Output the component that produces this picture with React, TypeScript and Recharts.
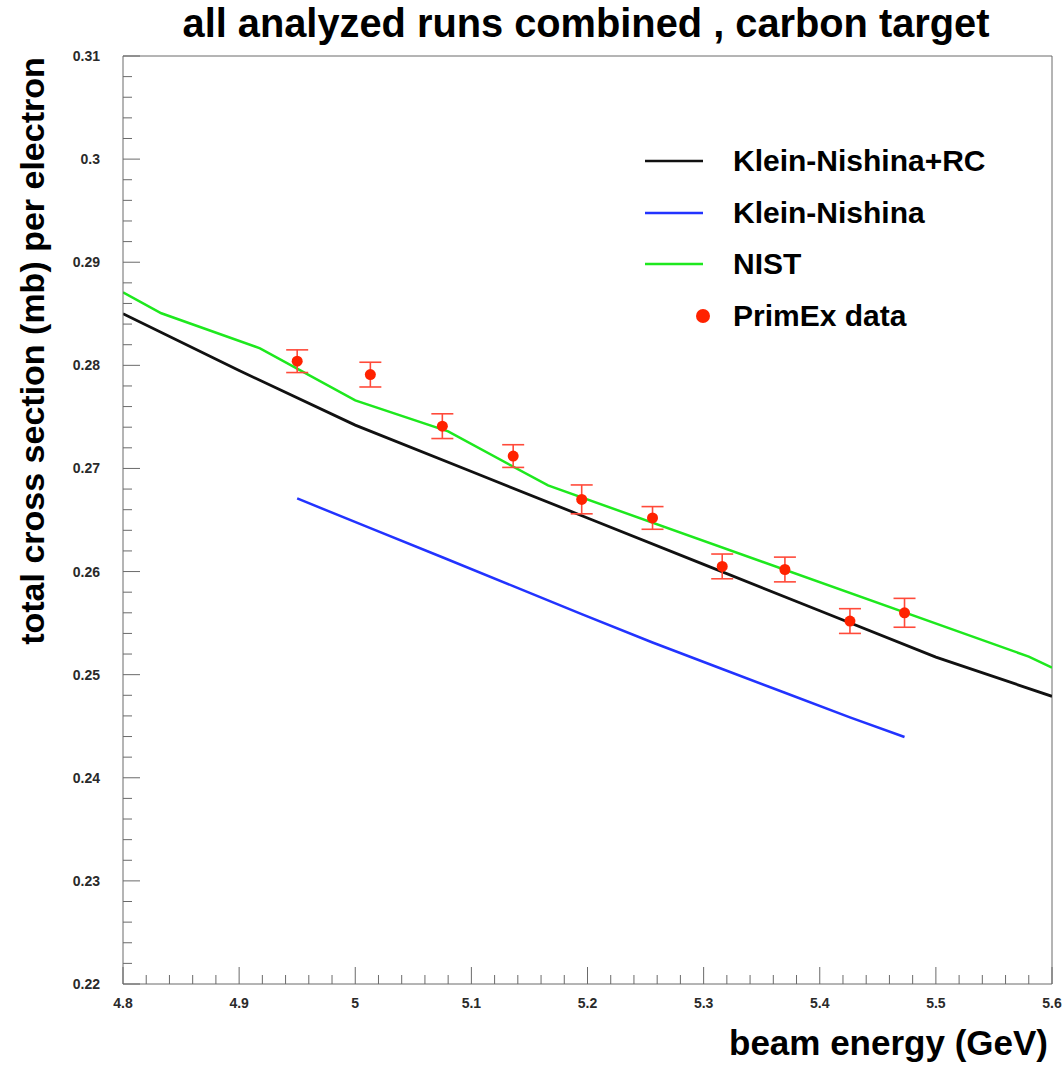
import { ComposedChart, Line, Scatter, ErrorBar, XAxis, YAxis, ReferenceLine } from "recharts";

// NIST curve (green)
const nistEnergy = [4.8, 4.833, 4.918, 5.0, 5.08, 5.166, 5.58, 5.6];
const nistXs = [0.28709, 0.28505, 0.28165, 0.2766, 0.27359, 0.26835, 0.25175, 0.25068];

// Klein-Nishina + radiative corrections (black)
const krcEnergy = [4.8, 4.9, 5.0, 5.1, 5.2, 5.3, 5.4, 5.5, 5.6];
const krcXs = [0.285, 0.2795, 0.2742, 0.2697, 0.2652, 0.2607, 0.2562, 0.2517, 0.2479];

// Klein-Nishina only (blue)
const knEnergy = [4.95, 5.013, 5.075, 5.136, 5.195, 5.256, 5.316, 5.37, 5.426, 5.473];
const knXs = [0.26709, 0.26421, 0.26139, 0.25859, 0.25588, 0.25312, 0.25055, 0.24825, 0.24586, 0.24395];

// PrimEx data
const dataEnergy = [4.95, 5.013, 5.075, 5.136, 5.195, 5.256, 5.316, 5.37, 5.426, 5.473];
const dataXs = [0.2804, 0.2791, 0.2741, 0.2712, 0.267, 0.2652, 0.2605, 0.2602, 0.2552, 0.256];
const dataErr = [0.0011, 0.0012, 0.0012, 0.0011, 0.0014, 0.0011, 0.0012, 0.0012, 0.0012, 0.0014];

const xMajorTicks = [4.8, 4.9, 5.0, 5.1, 5.2, 5.3, 5.4, 5.5, 5.6];
const yMajorTicks = [0.22, 0.23, 0.24, 0.25, 0.26, 0.27, 0.28, 0.29, 0.3, 0.31];

const legendItems = [
  { name: "Klein-Nishina+RC", color: "#111111", kind: "line" },
  { name: "Klein-Nishina", color: "#2233ff", kind: "line" },
  { name: "NIST", color: "#1ee81e", kind: "line" },
  { name: "PrimEx data", color: "#ff2200", kind: "dot" },
];

const AXIS = "#6a6a6a";
const FONT = "'Liberation Sans', Arial, Helvetica, sans-serif";
const X_DOMAIN: [number, number] = [4.8, 5.6];
const Y_DOMAIN: [number, number] = [0.22, 0.31];

// major ticks plus 4 minor ticks in between (ROOT style)
function withMinor(major: number[], digits: number) {
  const out: number[] = [];
  for (let i = 0; i < major.length - 1; i++) {
    const step = (major[i + 1] - major[i]) / 5;
    for (let k = 0; k < 5; k++) out.push(Number((major[i] + k * step).toFixed(digits)));
  }
  out.push(major[major.length - 1]);
  return out;
}
const xAllTicks = withMinor(xMajorTicks, 3);
const yAllTicks = withMinor(yMajorTicks, 4);

const nistData = nistEnergy.map((e, i) => ({ e, xs: nistXs[i] }));
const krcData = krcEnergy.map((e, i) => ({ e, xs: krcXs[i] }));
const knData = knEnergy.map((e, i) => ({ e, xs: knXs[i] }));
const pointData = dataEnergy.map((e, i) => ({ e, xs: dataXs[i], err: dataErr[i] }));

const isMajor = (list: number[], v: number) => list.some((m) => Math.abs(m - v) < 1e-6);
const labelStyle = { fontSize: 14, fontWeight: "bold" as const, fill: "#2a2a2a", fontFamily: FONT };

// ticks point inward, labels only on major ticks
function XTick(p: any) {
  const v = p.payload.value;
  const major = isMajor(xMajorTicks, v);
  return (
    <g>
      <line x1={p.x} x2={p.x} y1={p.y} y2={p.y - (major ? 17 : 9)} stroke={AXIS} />
      {major && (
        <text x={p.x} y={p.y + 24} textAnchor="middle" {...labelStyle}>
          {String(Number(v.toFixed(1)))}
        </text>
      )}
    </g>
  );
}

function YTick(p: any) {
  const v = p.payload.value;
  const major = isMajor(yMajorTicks, v);
  return (
    <g>
      <line x1={p.x} x2={p.x + (major ? 17 : 9)} y1={p.y} y2={p.y} stroke={AXIS} />
      {major && (
        <text x={p.x - 23} y={p.y + 5} textAnchor="end" {...labelStyle}>
          {String(Number(v.toFixed(2)))}
        </text>
      )}
    </g>
  );
}

function LegendBox() {
  return (
    <div style={{ position: "absolute", left: 640, top: 135, width: 400, fontFamily: FONT }}>
      {legendItems.map((it) => (
        <div key={it.name} style={{ display: "flex", alignItems: "center", height: 51.7 }}>
          <svg width={88} height={20} style={{ display: "block" }}>
            {it.kind === "line" ? (
              <line x1={5} x2={63} y1={10} y2={10} stroke={it.color} strokeWidth={2.5} />
            ) : (
              <circle cx={63} cy={10} r={7} fill={it.color} />
            )}
          </svg>
          <span style={{ marginLeft: 5, fontSize: 30, fontWeight: "bold", color: "#000", whiteSpace: "nowrap" }}>
            {it.name}
          </span>
        </div>
      ))}
    </div>
  );
}

export default function App() {
  return (
    <div style={{ position: "absolute", left: 0, top: 0, width: 1063, height: 1067, background: "#fff" }}>
      <ComposedChart width={1063} height={1067} margin={{ top: 56, right: 11, bottom: 0, left: 0 }}>
        <XAxis xAxisId="x" type="number" dataKey="e" domain={X_DOMAIN} allowDataOverflow
          ticks={xAllTicks} interval={0} height={83} tickSize={0} tickMargin={0}
          tickLine={false} axisLine={{ stroke: AXIS }} tick={XTick} />
        <YAxis yAxisId="y" type="number" domain={Y_DOMAIN} allowDataOverflow
          ticks={yAllTicks} interval={0} width={123} tickSize={0} tickMargin={0}
          tickLine={false} axisLine={{ stroke: AXIS }} tick={YTick} />

        {/* frame: top and right edges */}
        <ReferenceLine xAxisId="x" yAxisId="y" y={Y_DOMAIN[1]} stroke={AXIS} />
        <ReferenceLine xAxisId="x" yAxisId="y" x={X_DOMAIN[1]} stroke={AXIS} />

        <Line xAxisId="x" yAxisId="y" data={nistData} dataKey="xs" name="NIST" type="linear"
          stroke="#1ee81e" strokeWidth={2.5} dot={false} isAnimationActive={false} />
        <Line xAxisId="x" yAxisId="y" data={krcData} dataKey="xs" name="Klein-Nishina+RC" type="linear"
          stroke="#111111" strokeWidth={2.8} dot={false} isAnimationActive={false} />
        <Line xAxisId="x" yAxisId="y" data={knData} dataKey="xs" name="Klein-Nishina" type="linear"
          stroke="#2233ff" strokeWidth={2.5} dot={false} isAnimationActive={false} />
        <Scatter xAxisId="x" yAxisId="y" data={pointData} dataKey="xs" name="PrimEx data"
          fill="#ff2200" isAnimationActive={false}
          shape={(p: any) => <circle cx={p.cx} cy={p.cy} r={5.5} fill="#ff2200" />}>
          <ErrorBar dataKey="err" direction="y" width={11} stroke="#ff4a3a" strokeWidth={1.6} />
        </Scatter>
      </ComposedChart>

      <LegendBox />

      <svg width={1063} height={1067} style={{ position: "absolute", left: 0, top: 0, pointerEvents: "none" }}>
        <text x={586} y={37} textAnchor="middle" fontSize={40} fontWeight="bold"
          fontFamily="'Liberation Sans Narrow', 'Liberation Sans', Arial, sans-serif"
          textLength={807} lengthAdjust="spacingAndGlyphs" fill="#000">
          all analyzed runs combined , carbon target
        </text>
        <text transform="translate(44,351) rotate(-90)" textAnchor="middle" fontSize={34}
          fontWeight="bold" fontFamily={FONT} fill="#000">
          total cross section (mb) per electron
        </text>
        <text x={1048} y={1055} textAnchor="end" fontSize={35} fontWeight="bold" fontFamily={FONT} fill="#000">
          beam energy (GeV)
        </text>
      </svg>
    </div>
  );
}
